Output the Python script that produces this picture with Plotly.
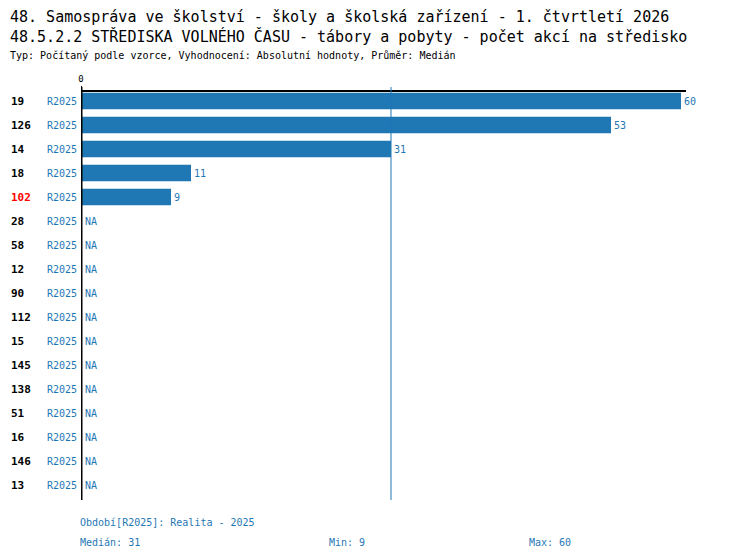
import plotly.graph_objects as go

# data
ids = ["19", "126", "14", "18", "102", "28", "58", "12", "90", "112",
       "15", "145", "138", "51", "16", "146", "13"]
values = [60, 53, 31, 11, 9, None, None, None, None, None,
          None, None, None, None, None, None, None]
period = "R2025"
highlight = "102"
median, vmin, vmax = 31, 9, 60

title1 = "48. Samospráva ve školství - školy a školská zařízení - 1. čtvrtletí 2026"
title2 = "48.5.2.2 STŘEDISKA VOLNÉHO ČASU - tábory a pobyty - počet akcí na středisko"
subtitle = "Typ: Počítaný podle vzorce, Vyhodnocení: Absolutní hodnoty, Průměr: Medián"

BLUE = "#1f77b4"
FONT = "DejaVu Sans Mono"

# page has an 8px body margin, so the figure is drawn 8px in and made smaller
OFF = 8
W, H = 750 - OFF, 560 - OFF
L, T = 81 - OFF, 92 - OFF
pw, ph = 605, 408
R, B = W - L - pw, H - T - ph

def px(p):  # screen pixel x -> paper
    return (p - OFF - L) / pw

def py(p):  # screen pixel y -> paper
    return (H - B - (p - OFF)) / ph

pos = list(range(len(ids)))

fig = go.Figure()
fig.add_trace(go.Bar(
    x=[v if v is not None else 0 for v in values], y=pos, orientation="h",
    marker=dict(color=BLUE, line=dict(width=0)), width=0.68,
    text=[str(v) if v is not None else "" for v in values],
    textposition="outside", textfont=dict(family=FONT, size=10, color=BLUE),
    cliponaxis=False, hoverinfo="skip",
))

# titles can't go above/left of the figure, so they sit at its top-left corner
ann = [
    dict(text=title1, x=px(8), y=py(17), font=dict(size=15)),
    dict(text=title2, x=px(8), y=py(36), font=dict(size=15)),
    dict(text=subtitle, x=px(8), y=py(55), font=dict(size=10)),
    dict(text="Období[R2025]: Realita - 2025", x=px(78), y=py(522), font=dict(size=10, color=BLUE)),
    dict(text=f"Medián: {median}", x=px(78), y=py(542), font=dict(size=10, color=BLUE)),
    dict(text=f"Min: {vmin}", x=px(327), y=py(542), font=dict(size=10, color=BLUE)),
    dict(text=f"Max: {vmax}", x=px(527), y=py(542), font=dict(size=10, color=BLUE)),
]
for a in ann:
    a.update(xref="paper", yref="paper", xanchor="left", yanchor="middle", showarrow=False)
    a["font"] = dict(family=FONT, color=a["font"].get("color", "black"), size=a["font"]["size"])
for p, i, v in zip(pos, ids, values):
    ann.append(dict(text=f"<b>{i}</b>", x=px(9), xref="paper", y=p, yref="y",
                    xanchor="left", yanchor="middle", showarrow=False,
                    font=dict(family=FONT, size=11, color="red" if i == highlight else "black")))
    if v is None:
        ann.append(dict(text="NA", x=0, xref="x", y=p, yref="y", xshift=2,
                        xanchor="left", yanchor="middle", showarrow=False,
                        font=dict(family=FONT, size=10, color=BLUE)))
fig.update_layout(annotations=ann)

fig.add_shape(type="line", xref="x", yref="paper", x0=median, x1=median, y0=0, y1=py(87),
              line=dict(color=BLUE, width=1))
fig.add_shape(type="line", xref="x", yref="paper", x0=0, x1=0, y0=0, y1=py(87),
              line=dict(color="black", width=3))

fig.update_layout(
    width=W, height=H, margin=dict(l=L, r=R, t=T, b=B),
    plot_bgcolor="white", paper_bgcolor="white", showlegend=False,
    xaxis=dict(range=[0, 60.5], side="top", tickvals=[0], ticktext=["0"],
               ticks="outside", ticklen=4, tickcolor="black",
               tickfont=dict(family=FONT, size=9, color="black"),
               showgrid=False, zeroline=False, showline=True, linecolor="black", linewidth=2,
               fixedrange=True),
    yaxis=dict(range=[len(ids) - 0.375, -0.375], tickvals=pos, ticktext=[period] * len(ids),
               tickfont=dict(family=FONT, size=10, color=BLUE), ticks="", ticklabelstandoff=3,
               showgrid=False, zeroline=False, showline=False, fixedrange=True),
)

fig.write_html("out.html")
